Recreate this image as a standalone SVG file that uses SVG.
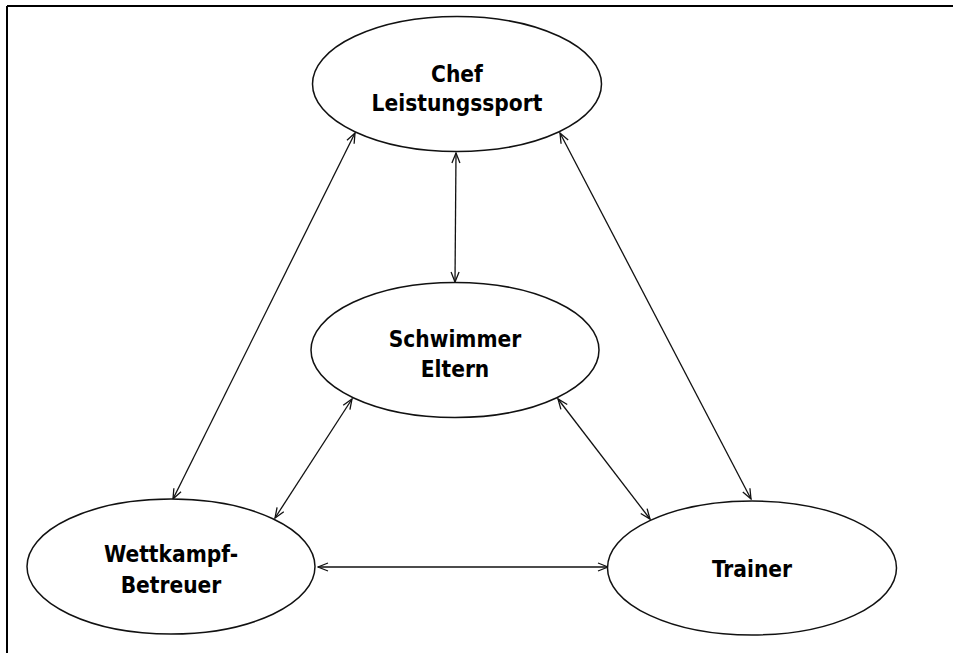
<svg xmlns="http://www.w3.org/2000/svg" width="953" height="653" viewBox="0 0 953 653">
<style>
.node ellipse{fill:#fff;stroke:#111;stroke-width:1.5}
.node text{font-family:"DejaVu Sans Condensed","DejaVu Sans",Verdana,sans-serif;font-stretch:condensed;font-weight:bold;font-size:22.5px;fill:#000;text-anchor:middle}
.conn line{stroke:#111;stroke-width:1.3;fill:none;marker-start:url(#ah);marker-end:url(#ah)}
</style>
<defs>
<marker id="ah" markerUnits="userSpaceOnUse" viewBox="0 0 12 10" refX="11" refY="5" markerWidth="12" markerHeight="10" orient="auto-start-reverse">
<path d="M1,1 L11,5 L1,9" fill="none" stroke="#111" stroke-width="1.3"/>
</marker>
</defs>
<rect width="953" height="653" fill="#fff"/>
<g id="frame">
<line x1="7" y1="6" x2="953" y2="6" stroke="#000" stroke-width="2"/>
<line x1="7" y1="6" x2="7" y2="653" stroke="#000" stroke-width="2"/>
</g>
<g class="conn" id="connectors">
<line x1="456" y1="153" x2="455" y2="282"/>
<line x1="355" y1="133" x2="173" y2="499"/>
<line x1="560" y1="133" x2="751" y2="499"/>
<line x1="352" y1="399" x2="275" y2="518"/>
<line x1="558" y1="399" x2="650" y2="519"/>
<line x1="318" y1="567" x2="608" y2="567"/>
</g>
<g class="node" id="chef">
<ellipse cx="457" cy="84" rx="144.5" ry="67.5"/>
<text x="457" y="82">Chef</text>
<text x="457" y="111">Leistungssport</text>
</g>
<g class="node" id="schwimmer">
<ellipse cx="455" cy="350" rx="144" ry="67.5"/>
<text x="455" y="347">Schwimmer</text>
<text x="455" y="377">Eltern</text>
</g>
<g class="node" id="wettkampf">
<ellipse cx="171" cy="566.5" rx="144" ry="67.5"/>
<text x="171" y="562">Wettkampf-</text>
<text x="171" y="593">Betreuer</text>
</g>
<g class="node" id="trainer">
<ellipse cx="752" cy="568" rx="144.5" ry="67"/>
<text x="752" y="577">Trainer</text>
</g>
</svg>
